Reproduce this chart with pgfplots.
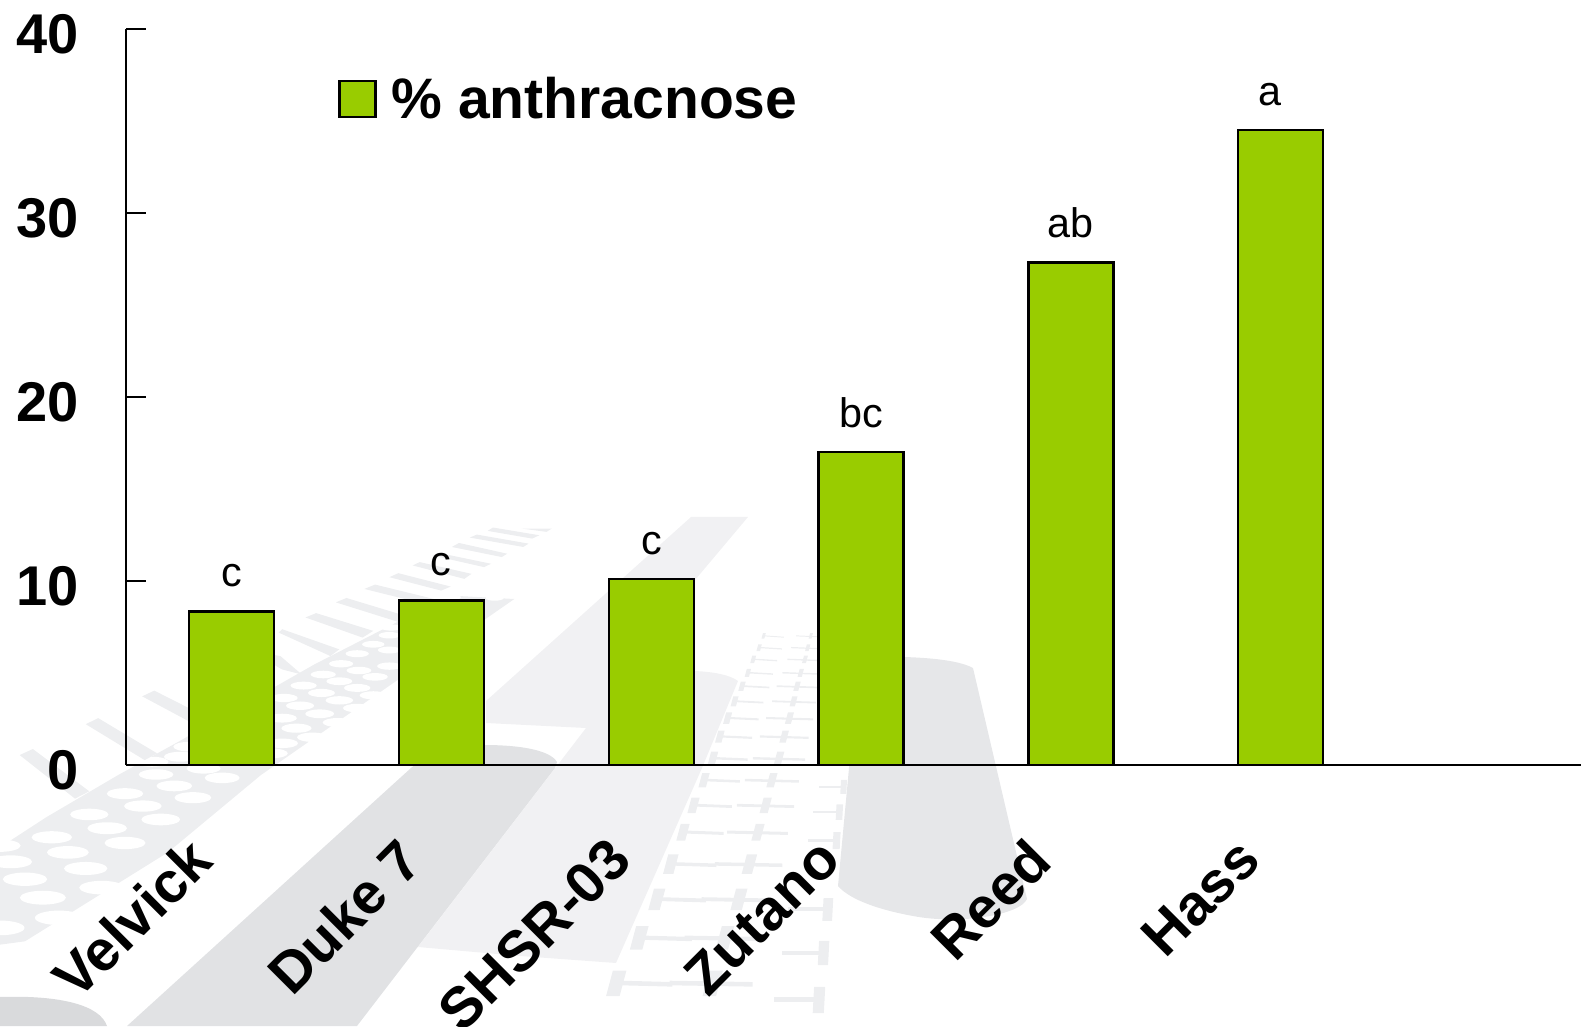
\documentclass[border=0pt]{standalone}
\usepackage{fontspec}
\setmainfont{Liberation Sans}
\usepackage{pgfplots}
\pgfplotsset{compat=1.18}
\definecolor{barg}{HTML}{99CC00}
\definecolor{bgA}{HTML}{E1E2E4}
\definecolor{bgB}{HTML}{F1F1F3}
\definecolor{bgC}{HTML}{D9DADC}
\definecolor{bgD}{HTML}{E6E7E9}
\definecolor{bgE}{HTML}{EDEEF0}
\begin{document}
\begin{tikzpicture}
\useasboundingbox (0,0) rectangle (1185.75pt,769.5pt);
% ---- background decoration ----
\begin{scope}
\clip (0,0) rectangle (1185.75pt,769.5pt);
\begin{scope}[shift={(0pt,769.5pt)},x=0.75pt,y=-0.75pt]
\fill[bgB] (691,517)--(748,517)--(695,580)--(695,671) .. controls (715,672) and (730,675) .. (738,681)--(702,768)--(616,963)--(520,956)--(418,947)--(586,728)--(486,723)--(486,701)--cycle;
\fill[bgA] (127,1026)--(411,768)--(440,745)--(484,745) .. controls (520,745) and (550,750) .. (557,762)--(555,768)--(357,1026)--cycle;
\fill[bgC] (0,997) .. controls (60,995) and (100,1005) .. (107,1026)--(0,1026)--cycle;
\fill[bgD] (849,768)--(860,657)--(904,657) .. controls (935,658) and (960,661) .. (973,668)--(1027,899) .. controls (1020,915) and (960,925) .. (913,916) .. controls (880,910) and (850,900) .. (838,886)--cycle;
% mesh band and stripes, in crop coordinates
\begin{scope}[shift={(0,500)},x=0.2679pt,y=-0.2517pt]
\fill[bgE] (1100,370)--(880,490)--(500,720)--(330,820)--(130,945)--(0,1035)--(0,1325)--(70,1315)--(470,1050)--(730,820)--(1000,620)--(1440,295)--(1265,285)--cycle;
\foreach \ax/\ay in {1265/290,1385/292,1095/380,1090/403,1045/430,1090/447,1000/458,955/488,1090/495,905/520,1005/508,1050/527,950/540,850/553,1000/560,900/575,795/590,1045/582,950/597,840/613,895/637,1000/620,790/650,830/680,945/663,875/707,530/735,790/725,505/765,760/755,425/780,570/800,437/818,622/828,488/852,350/875,540/887,400/912,250/937,450/952,300/978,145/1005,350/1022,190/1050,30/1078,240/1098,70/1130,120/1185,0/1030,285/1155,165/1245,0/1275}{
  \pgfmathsetmacro{\hw}{30+(\ay-400)*0.044}
  \pgfmathsetmacro{\hh}{\hw*0.32}
  \fill[white] (\ax,\ay) ellipse ({\hw} and {\hh});
}
\fill[bgE] (55,760)--(92,742)--(250,868)--(210,890)--cycle;
\fill[bgE] (240,668)--(275,650)--(440,755)--(405,775)--cycle;
\fill[bgE] (398,585)--(432,568)--(640,680)--(600,700)--cycle;
\fill[bgE] (700,450)--(785,465)--(845,520)--(790,505)--cycle;
\fill[bgE] (780,395)--(790,385)--(950,445)--(925,465)--cycle;
\fill[bgE] (855,350)--(885,337)--(1045,390)--(1015,410)--cycle;
\fill[bgE] (940,305)--(970,292)--(1150,350)--(1120,365)--cycle;
\fill[bgE] (1020,265)--(1050,252)--(1215,295)--(1190,310)--cycle;
\fill[bgE] (1090,230)--(1115,218)--(1262,258)--(1235,270)--cycle;
\fill[bgE] (1155,195)--(1175,185)--(1320,220)--(1300,235)--cycle;
\fill[bgE] (1210,165)--(1230,158)--(1375,190)--(1355,200)--cycle;
\fill[bgE] (1265,140)--(1285,128)--(1420,160)--(1405,170)--cycle;
\fill[bgE] (1315,112)--(1335,103)--(1480,130)--(1465,140)--cycle;
\fill[bgE] (1365,92)--(1380,82)--(1510,105)--(1490,115)--cycle;
\fill[bgE] (1460,85)--(1545,85)--(1530,95)--cycle;
\end{scope}
\begin{scope}[shift={(520,500)},x=0.2679pt,y=-0.2517pt]
\foreach \ry/\lx/\cx/\h in {405/680/812/16,440/667/803/20,475/650/795/22,515/635/783/24,555/618/772/28,600/597/762/30,650/577/750/34,705/555/735/36,770/535/720/40,835/510/700/42,910/480/682/46,990/450/660/50,1085/415/635/58,1190/375/605/64,1305/325/565/70,1440/260/530/76}{
  \fill[bgE] ({\lx-0.25*\h},{\ry+0.5*\h})--({\lx+0.25*\h},{\ry+0.5*\h})--({\lx+0.5*\h},{\ry-0.5*\h})--({\lx},{\ry-0.5*\h})--cycle;
  \fill[bgE] ({\cx-0.25*\h},{\ry+0.5*\h})--({\cx+0.25*\h},{\ry+0.5*\h})--({\cx+0.5*\h},{\ry-0.5*\h})--({\cx},{\ry-0.5*\h})--cycle;
  \fill[bgE] ({\lx+0.3*\h},{\ry-0.1*\h})--({\lx+0.3*\h+1.5*\h+30},{\ry-0.1*\h+4})--({\lx+0.3*\h+1.5*\h+30},{\ry+0.08*\h+4})--({\lx+0.3*\h},{\ry+0.08*\h})--cycle;
  \fill[bgE] ({\cx-1.2*\h-20},{\ry-0.1*\h})--({\cx+1.2*\h+30},{\ry-0.1*\h+4})--({\cx+1.2*\h+30},{\ry+0.08*\h+4})--({\cx-1.2*\h-20},{\ry+0.08*\h})--cycle;
}
\foreach \ry/\rx/\h in {855/905/42,930/893/46,1015/885/50,1220/860/68,1350/848/72,1490/835/78}{
  \fill[bgE] ({\rx-0.2*\h},{\ry+0.5*\h})--({\rx+0.2*\h},{\ry+0.5*\h})--({\rx+0.25*\h},{\ry-0.5*\h})--({\rx-0.15*\h},{\ry-0.5*\h})--cycle;
  \fill[bgE] ({\rx-1.6*\h},{\ry-0.1*\h})--({\rx},{\ry-0.1*\h})--({\rx},{\ry+0.08*\h})--({\rx-1.6*\h},{\ry+0.08*\h})--cycle;
}
\end{scope}
\end{scope}
\end{scope}
% ---- chart ----
\begin{axis}[
  at={(94.5pt,195.75pt)}, anchor=south west,
  scale only axis, width=1091.25pt, height=551.8pt,
  xmin=-0.504, xmax=6.431, ymin=0, ymax=40,
  axis lines=left, axis line style={line width=1.7pt,-},
  ytick={0,10,20,30,40},
  xtick={0,1,2,3,4,5},
  xticklabels={Velvick,Duke 7,SHSR-03,Zutano,Reed,Hass},
  tick align=inside,
  major tick length=15pt,
  tick style={line width=1.5pt,black},
  x tick style={draw=none},
  /pgf/number format/assume math mode=true,
  yticklabel style={font=\fontsize{42}{50}\selectfont\bfseries,anchor=east,inner sep=0pt,xshift=-35pt,yshift=-4pt},
  xticklabel style={font=\fontsize{43}{50}\selectfont\bfseries,rotate=45,anchor=north east,inner sep=0pt,xshift=-61.2pt,yshift=-12.7pt},
  clip=false,
  legend style={at={(0.146,0.905)},anchor=west,draw=none,fill=none,font=\fontsize{42.8}{50}\selectfont\bfseries,inner sep=0pt,outer sep=0pt},
  legend cell align=left,
]
\addplot[ybar,bar width=63.8pt,bar shift=0pt,fill=barg,draw=black,line width=1.8pt,
  area legend,
  legend image code/.code={\draw[fill=barg,draw=black,line width=1.8pt] (0pt,-13.5pt) rectangle (27pt,13.5pt); \path (36pt,0pt);},
  point meta=explicit symbolic,
  visualization depends on={value \thisrow{dx} \as \dx},
  nodes near coords,
  every node near coord/.append style={font=\fontsize{31}{36}\selectfont,anchor=base,yshift=18.4pt,xshift=\dx pt,black,inner sep=0pt},
] table[x=x,y=y,meta=label] {
x y label dx
0 8.35 c 0
1 8.95 c -0.5
2 10.12 c 0
3 17.02 bc 0
4 27.33 ab 0
5 34.53 a -8.3
};
\addlegendentry{\% anthracnose}
\end{axis}
\end{tikzpicture}
\end{document}
